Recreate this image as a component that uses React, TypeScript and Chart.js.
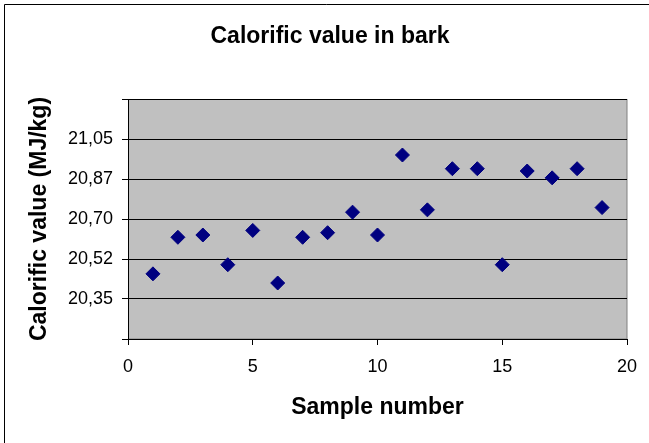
import React, { useEffect, useRef } from "react";
import { Chart, registerables } from "chart.js";

Chart.register(...registerables);

const sampleNumbers = [1, 2, 3, 4, 5, 6, 7, 8, 9, 10, 11, 12, 13, 14, 15, 16, 17, 18, 19];
const calorificValues = [
  20.46, 20.62, 20.63, 20.5, 20.65, 20.42, 20.62, 20.64, 20.73, 20.63,
  20.98, 20.74, 20.92, 20.92, 20.5, 20.91, 20.88, 20.92, 20.75,
];
const xTickValues = [0, 5, 10, 15, 20];
const yTickValues = [20.175, 20.35, 20.525, 20.7, 20.875, 21.05, 21.225];
const yTickLabels = ["", "20,35", "20,52", "20,70", "20,87", "21,05", ""];

const chartTitle = "Calorific value in bark";
const xTitle = "Sample number";
const yTitle = "Calorific value (MJ/kg)";

const FONT = "'Liberation Sans', Arial, Helvetica, sans-serif";

const decorPlugin = {
  id: "decor",
  beforeDraw(chart: any) {
    const { ctx, chartArea } = chart;
    ctx.save();
    ctx.fillStyle = "#ffffff";
    ctx.fillRect(0, 0, chart.width, chart.height);
    // outer frame (top and left edges visible)
    ctx.strokeStyle = "#000000";
    ctx.lineWidth = 1;
    ctx.beginPath();
    ctx.moveTo(4.5, chart.height);
    ctx.lineTo(4.5, 4.5);
    ctx.lineTo(chart.width, 4.5);
    ctx.stroke();
    // plot area
    ctx.fillStyle = "#c0c0c0";
    ctx.fillRect(chartArea.left, chartArea.top, chartArea.right - chartArea.left, chartArea.bottom - chartArea.top);
    ctx.strokeStyle = "#808080";
    ctx.strokeRect(chartArea.left + 0.5, chartArea.top + 0.5, chartArea.right - chartArea.left - 0.5, chartArea.bottom - chartArea.top - 0.5);
    ctx.restore();
  },
};

export default function App() {
  const canvasRef = useRef<HTMLCanvasElement | null>(null);

  useEffect(() => {
    const canvas = canvasRef.current;
    if (!canvas) return;
    const chart = new Chart(canvas, {
      type: "scatter",
      data: {
        datasets: [
          {
            data: sampleNumbers.map((x, i) => ({ x, y: calorificValues[i] })),
            pointStyle: "rectRot",
            pointRadius: 7,
            pointHoverRadius: 7,
            backgroundColor: "#000080",
            borderColor: "#000080",
            borderWidth: 1,
          },
        ],
      },
      options: {
        animation: false,
        responsive: false,
        events: [],
        layout: { padding: { left: 33, right: 22, top: 0, bottom: 0 } },
        plugins: {
          legend: { display: false },
          tooltip: { enabled: false },
          title: {
            display: true,
            text: chartTitle,
            color: "#000000",
            font: { family: FONT, size: 23, weight: "bold", lineHeight: 1.2 },
            padding: { top: 22.5, bottom: 48.9 },
          },
        },
        scales: {
          x: {
            type: "linear",
            min: 0,
            max: 20,
            afterBuildTicks: (scale: any) => {
              scale.ticks = xTickValues.map((v) => ({ value: v }));
            },
            afterFit: (scale: any) => {
              scale.height = 104;
            },
            ticks: {
              color: "#000000",
              font: { family: FONT, size: 18 },
              padding: 11,
              maxRotation: 0,
              autoSkip: false,
            },
            grid: {
              drawOnChartArea: false,
              drawTicks: true,
              tickLength: 6,
              color: "#000000",
            },
            border: { color: "#000000", width: 1 },
            title: {
              display: true,
              text: xTitle,
              color: "#000000",
              font: { family: FONT, size: 23, weight: "bold", lineHeight: 1.2 },
              padding: { top: 0, bottom: 22 },
            },
          },
          y: {
            type: "linear",
            min: 20.175,
            max: 21.225,
            afterBuildTicks: (scale: any) => {
              scale.ticks = yTickValues.map((v) => ({ value: v }));
            },
            afterFit: (scale: any) => {
              scale.width = 95;
            },
            ticks: {
              color: "#000000",
              font: { family: FONT, size: 18 },
              padding: 9,
              autoSkip: false,
              callback: (_v: any, i: number) => yTickLabels[i],
            },
            grid: {
              color: "#000000",
              drawTicks: true,
              tickLength: 6,
            },
            border: { color: "#000000", width: 1 },
            title: {
              display: true,
              text: yTitle,
              color: "#000000",
              font: { family: FONT, size: 23, weight: "bold", lineHeight: 1.2 },
              padding: { top: -7, bottom: 0 },
            },
          },
        },
      },
      plugins: [decorPlugin],
    });
    return () => chart.destroy();
  }, []);

  return (
    <div style={{ position: "absolute", left: 0, top: 0, width: 649, height: 443, background: "#fff" }}>
      <canvas ref={canvasRef} width={649} height={443} style={{ display: "block" }} />
    </div>
  );
}
